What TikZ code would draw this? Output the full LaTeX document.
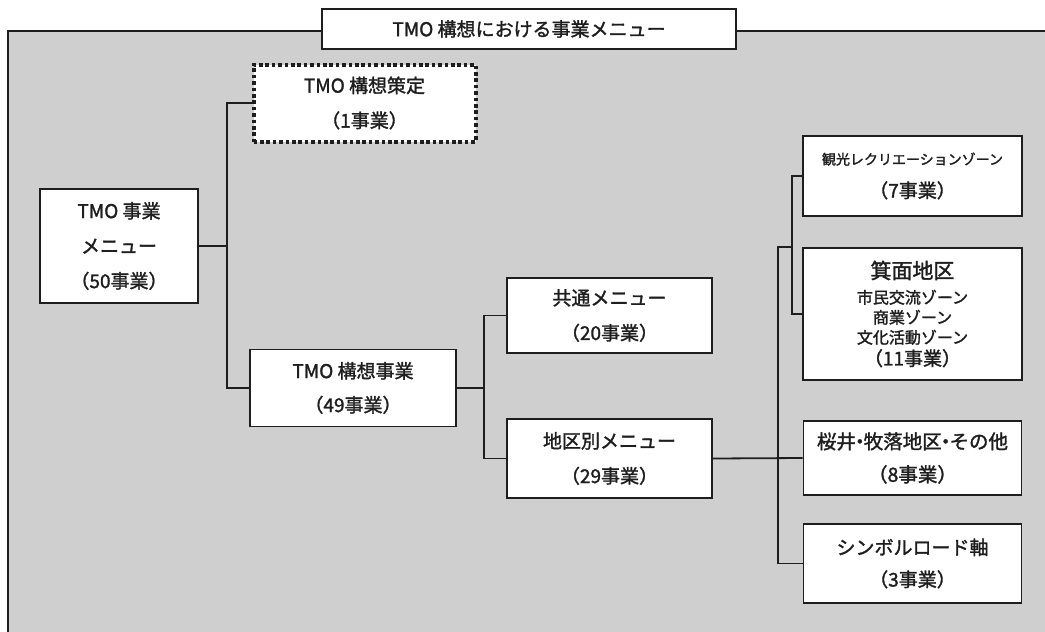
\documentclass[tikz,border=0pt]{standalone}
\usepackage{fontspec}
\setmainfont{Noto Sans CJK JP}[BoldFont={Noto Sans CJK JP}, BoldFeatures={FakeBold=1.6}]
\definecolor{panelgray}{RGB}{207,207,207}
\definecolor{ink}{RGB}{30,30,30}
\begin{document}
\begin{tikzpicture}[x=1pt,y=-1pt,
  box/.style={draw=ink, line width=1.8pt, fill=white, align=center, inner sep=0pt,
              font=\fontsize{19}{35}\selectfont\bfseries, text=ink},
  dotbox/.style={box, line width=4pt, dash pattern=on 3.6pt off 2.8pt},
  conn/.style={draw=ink, line width=1.8pt},
  frame/.style={draw=ink, line width=1.8pt, fill=panelgray}]
\useasboundingbox (0,0) rectangle (1045,632);
\clip (0,0) rectangle (1045,632);
\draw[frame] (8,31) rectangle (1070,660);

\node[box, minimum width=414pt, minimum height=40pt] (title) at (529,29) {TMO 構想における事業メニュー};

\node[dotbox, minimum width=222pt, minimum height=77pt] (plan) at (364.5,103) {TMO 構想策定\\（1事業）};
\node[box, minimum width=158pt, minimum height=114pt] (root) at (119,246) {TMO 事業\\メニュー\\（50事業）};
\node[box, minimum width=206pt, minimum height=77pt] (proj) at (353,388) {TMO 構想事業\\[-1pt]（49事業）};
\node[box, minimum width=205pt, minimum height=75pt] (common) at (609.5,315.5) {共通メニュー\\（20事業）};
\node[box, minimum width=205pt, minimum height=79pt] (area) at (609.5,458.5) {地区別メニュー\\（29事業）};

\node[box, minimum width=219pt, minimum height=80pt] (kanko) at (912.5,176) {{\fontsize{14}{14}\selectfont 観光レクリエーションゾーン}\\[-2pt]（7事業）};
\node[box, minimum width=219pt, minimum height=132pt, font=\fontsize{16}{20}\selectfont\bfseries] (minoo) at (912.5,314)
  {{\fontsize{21}{21}\selectfont 箕面地区}\\[5pt]市民交流ゾーン\\商業ゾーン\\文化活動ゾーン\\[2pt]{\fontsize{19}{19}\selectfont （11事業）}};
\node[box, minimum width=218pt, minimum height=74pt, font=\fontsize{19.5}{33}\selectfont\bfseries] (sakurai) at (912.5,458)
  {桜井\hspace{-0.3em}・\hspace{-0.3em}牧落地区\hspace{-0.3em}・\hspace{-0.3em}その他\\（8事業）};
\node[box, minimum width=218pt, minimum height=79pt, font=\fontsize{19}{32}\selectfont\bfseries] (symbol) at (912.5,563.5) {シンボルロード軸\\（3事業）};

% connectors
\coordinate (j1) at (227,246);
\draw[conn] (root.east) -- (j1);
\draw[conn] (plan.west) -| (j1) |- (proj.west);

\coordinate (j2) at (484,388);
\draw[conn] (proj.east) -- (j2);
\draw[conn] (common.west) -| (j2) |- (area.west);

\coordinate (j3) at (778,458.5);
\coordinate (j4) at (778,247);
\coordinate (j5) at (792,247);
\draw[conn] (area.east) -- (sakurai.west);
\draw[conn] (symbol.west) -| (j3) -- (j4) -- (j5);
\draw[conn] (kanko.west) -| (j5) |- (minoo.west);
\end{tikzpicture}
\end{document}
